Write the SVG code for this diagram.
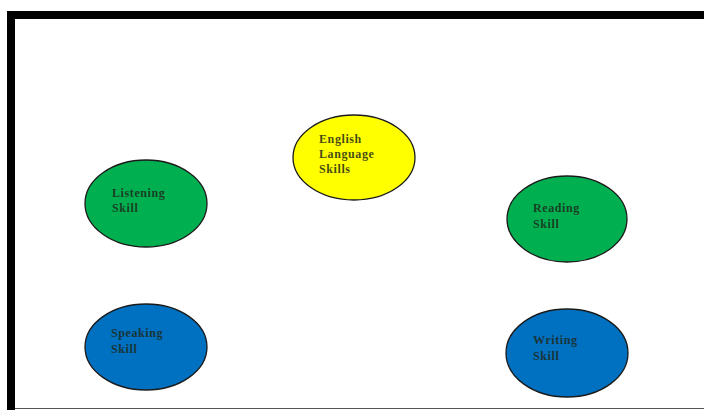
<svg xmlns="http://www.w3.org/2000/svg" width="704" height="410" viewBox="0 0 704 410">
<style>
.n{stroke:#1a1a1a;stroke-width:1.3}
.t{font-family:"Liberation Serif","Times New Roman",serif;font-size:12px;font-weight:bold;letter-spacing:0.6px;fill:#1f2a1a;fill-opacity:0.85}
</style>
<rect width="704" height="410" fill="#fff"/>
<g id="frame">
<rect x="7" y="11" width="697" height="8" fill="#000"/>
<rect x="7" y="11" width="8" height="399" fill="#000"/>
<line x1="15" y1="408.5" x2="704" y2="408.5" stroke="#555" stroke-width="1"/>
</g>
<g id="connectors"></g>
<g id="english">
<ellipse class="n" cx="354" cy="157.5" rx="61" ry="42.5" fill="#FFFF00"/>
<text class="t" x="319" y="143">English</text>
<text class="t" x="319" y="158">Language</text>
<text class="t" x="319" y="173">Skills</text>
</g>
<g id="listening">
<ellipse class="n" cx="146" cy="203.5" rx="61" ry="43.5" fill="#00B050"/>
<text class="t" x="112" y="197">Listening</text>
<text class="t" x="112" y="212">Skill</text>
</g>
<g id="reading">
<ellipse class="n" cx="567" cy="219" rx="60" ry="43" fill="#00B050"/>
<text class="t" x="533" y="212">Reading</text>
<text class="t" x="533" y="228">Skill</text>
</g>
<g id="speaking">
<ellipse class="n" cx="146" cy="347" rx="61" ry="43" fill="#0070C0"/>
<text class="t" x="111" y="337">Speaking</text>
<text class="t" x="111" y="353">Skill</text>
</g>
<g id="writing">
<ellipse class="n" cx="567" cy="353" rx="61" ry="44" fill="#0070C0"/>
<text class="t" x="533" y="344">Writing</text>
<text class="t" x="533" y="360">Skill</text>
</g>
</svg>
